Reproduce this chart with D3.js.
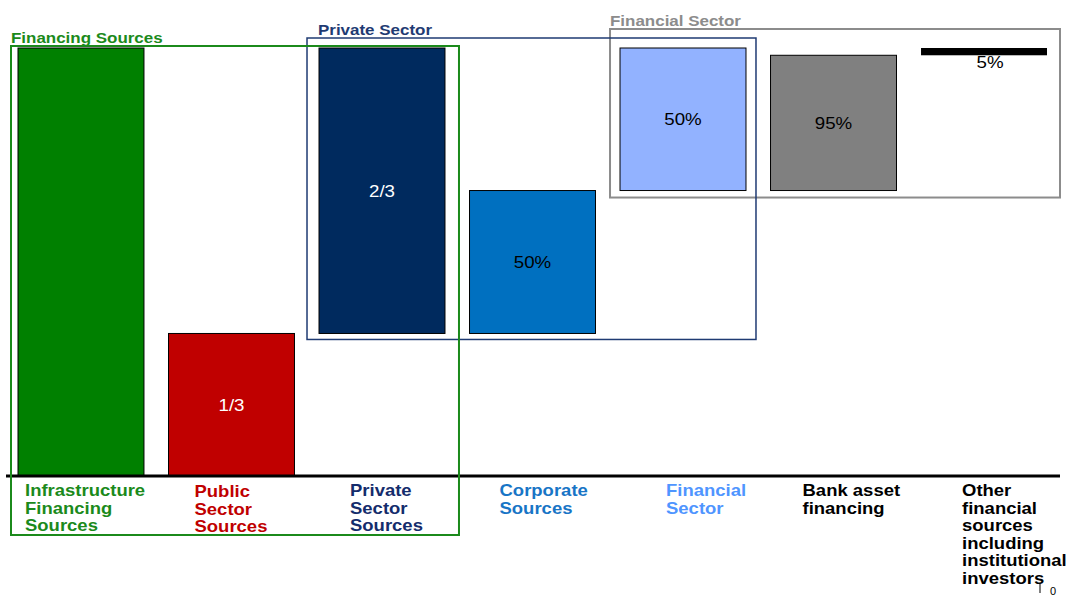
<!DOCTYPE html>
<html>
<head>
<meta charset="utf-8">
<script src="https://cdn.jsdelivr.net/npm/d3@7"></script>
<style>
  body { margin: 0; background: #fff; }
  svg { display: block; font-family: "Liberation Sans", Arial, sans-serif; }
</style>
</head>
<body>
<div id="chart"></div>
<script>
// categories and the floating ranges of each bar (share of total financing, 0..100)
const categories = ["Infrastructure Financing Sources", "Public Sector Sources", "Private Sector Sources",
    "Corporate Sources", "Financial Sector", "Bank asset financing",
    "Other financial sources including institutional investors"];
const labelLines = [
    ["Infrastructure", "Financing", "Sources"],
    ["Public", "Sector", "Sources"],
    ["Private", "Sector", "Sources"],
    ["Corporate", "Sources"],
    ["Financial", "Sector"],
    ["Bank asset", "financing"],
    ["Other", "financial", "sources", "including", "institutional", "investors"]
];
const barStart = [0, 0, 33.3, 33.3, 66.7, 66.7, 98.3];
const barEnd = [100, 33.3, 100, 66.7, 100, 98.3, 100];
const barText = ["", "1/3", "2/3", "50%", "50%", "95%", "5%"];

// grouping boxes: title, first and last category, bottom value
const groupTitles = ["Financial Sector", "Private Sector", "Financing Sources"];
const groupFirst = [4, 2, 0];
const groupLast = [6, 4, 2];
const groupBottom = [66.7, 33.3, 0];

// styles
const barColors = ["#008000", "#C00000", "#002A5E", "#0070C0", "#92B2FF", "#808080", "#000000"];
const labelColors = ["#1B8A1B", "#C00000", "#142C6C", "#1875C6", "#4F95FF", "#000000", "#000000"];
const textOnBar = ["#fff", "#fff", "#fff", "#000", "#000", "#000", "#000"];
const labelDx = [7, 26, 31, 30, 46, 32, 41];
const groupColors = ["#8C8C8C", "#1F3B73", "#1B8A1B"];
const groupWidths = [2, 1.5, 2];
const groupPad = [{l: 10, r: 13, t: 19, b: 7}, {l: 12, r: 10, t: 10, b: 6}, {l: 7, r: 14, t: 2, b: 0}];
const stretch = 1.17;

const W = 1069, H = 596;
const svg = d3.select("#chart").append("svg")
    .attr("width", W)
    .attr("height", H);

const x = d3.scaleBand()
    .domain(d3.range(categories.length))
    .range([18, 1047])
    .paddingInner(0.163)
    .paddingOuter(0);

const y = d3.scaleLinear()
    .domain([0, 100])
    .range([476, 48]);

function stretchedText(sel, tx, ty) {
    return sel.attr("transform", `translate(${tx},${ty}) scale(${stretch},1)`);
}

// bars
const idx = d3.range(categories.length);
svg.selectAll("rect.bar")
    .data(idx)
    .join("rect")
    .attr("class", "bar")
    .attr("x", i => x(i))
    .attr("y", i => y(barEnd[i]))
    .attr("width", x.bandwidth())
    .attr("height", i => y(barStart[i]) - y(barEnd[i]))
    .attr("fill", i => barColors[i])
    .attr("stroke", i => i === 6 ? "none" : "#000")
    .attr("stroke-width", 1);

// values inside bars (last one sits below its thin bar)
idx.forEach(i => {
    if (!barText[i]) return;
    let cx = x(i) + x.bandwidth() / 2 + (i === 6 ? 6 : 0);
    let cy = i === 6 ? y(barStart[i]) + 13 : (y(barStart[i]) + y(barEnd[i])) / 2 + 6;
    stretchedText(svg.append("text"), cx, cy)
        .attr("text-anchor", "middle")
        .attr("font-size", "16px")
        .attr("fill", textOnBar[i])
        .text(barText[i]);
});

// baseline
svg.append("line")
    .attr("x1", 6).attr("x2", 1060)
    .attr("y1", y(0)).attr("y2", y(0))
    .attr("stroke", "#000")
    .attr("stroke-width", 3);

// category labels
idx.forEach(i => {
    labelLines[i].forEach((line, k) => {
        stretchedText(svg.append("text"), x(i) + labelDx[i], 496 + (i === 1 ? 1 : 0) + k * 17.5)
            .attr("font-size", "15.8px")
            .attr("font-weight", "bold")
            .attr("fill", labelColors[i])
            .text(line);
    });
});

// group boxes and titles
groupTitles.forEach((t, g) => {
    let p = groupPad[g];
    let x0 = x(groupFirst[g]) - p.l;
    let x1 = x(groupLast[g]) + x.bandwidth() + p.r;
    let y0 = y(100) - p.t;
    let y1 = g === 2 ? 535 : y(groupBottom[g]) + p.b;
    svg.append("rect")
        .attr("x", x0).attr("y", y0)
        .attr("width", x1 - x0).attr("height", y1 - y0)
        .attr("fill", "none")
        .attr("stroke", groupColors[g])
        .attr("stroke-width", groupWidths[g]);
    stretchedText(svg.append("text"), g === 1 ? x0 + 11 : x0, y0 - 3)
        .attr("font-size", "14.5px")
        .attr("font-weight", "bold")
        .attr("fill", groupColors[g])
        .text(t);
});

// stray axis tick at the bottom right
svg.append("line")
    .attr("x1", 1040).attr("x2", 1040)
    .attr("y1", 584).attr("y2", 593)
    .attr("stroke", "#000");
svg.append("text")
    .attr("x", 1050).attr("y", 595)
    .attr("font-size", "11px")
    .text("0");
</script>
</body>
</html>
